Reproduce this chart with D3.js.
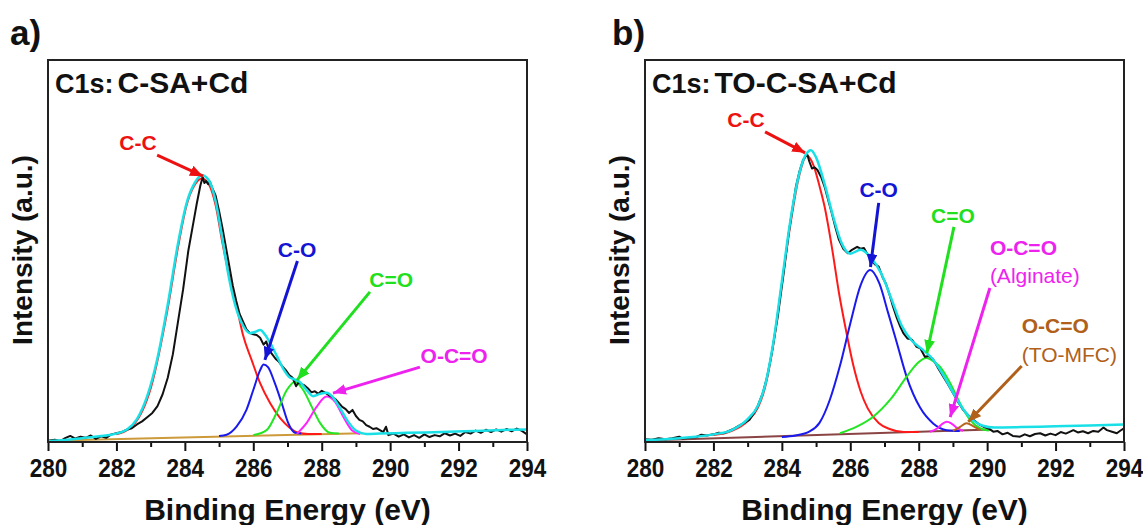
<!DOCTYPE html>
<html>
<head>
<meta charset="utf-8">
<script src="https://cdn.jsdelivr.net/npm/d3@7"></script>
<style>
  body { margin: 0; background: #fff; }
  svg { display: block; font-family: Arial, "Liberation Sans", sans-serif; }
</style>
</head>
<body>
<div class="d3Chart"></div>
<script>
// x ticks
var tickMajor = [280, 282, 284, 286, 288, 290, 292, 294];
var tickMinor = [281, 283, 285, 287, 289, 291, 293];

// ---- panel a : C-SA+Cd  ([eV, intensity]) ----
var rawA = [
  [280.0, 0.3], [280.2, 0.6], [280.35, 0.2], [280.5, 1.0], [280.65, 1.6], [280.8, 0.9],
  [280.95, 1.4], [281.1, 1.1], [281.25, 1.7], [281.4, 0.8], [281.55, 1.5], [281.7, 1.1],
  [281.85, 2.0], [282.0, 2.3], [282.15, 2.6], [282.3, 3.2], [282.45, 3.6], [282.6, 4.6],
  [282.75, 5.4], [282.9, 6.5], [283.05, 7.6], [283.2, 9.4], [283.35, 12.5], [283.5, 16.8],
  [283.65, 23], [283.8, 31.5], [283.95, 40], [284.1, 50], [284.25, 57.5], [284.35, 62.5],
  [284.45, 67], [284.52, 69.4], [284.57, 67.8], [284.62, 68.3], [284.68, 67.5], [284.73, 68.2],
  [284.8, 66.5], [284.9, 64.5], [285.0, 60.5], [285.1, 56], [285.2, 51], [285.3, 46],
  [285.4, 41], [285.5, 37], [285.6, 33.5], [285.7, 31.5], [285.8, 29.5], [285.9, 28.5],
  [286.0, 28.2], [286.1, 28.0], [286.2, 27.3], [286.3, 25.5], [286.38, 26.3], [286.45, 24.2],
  [286.55, 23.0], [286.65, 21.8], [286.75, 21.0], [286.85, 19.8], [286.95, 18.8], [287.05, 17.5],
  [287.15, 16.8], [287.25, 14.6], [287.32, 15.6], [287.4, 15.2], [287.5, 14.8], [287.6, 14.0],
  [287.7, 13.0], [287.8, 13.3], [287.9, 12.6], [288.0, 13.4], [288.1, 12.9], [288.2, 12.3],
  [288.3, 11.8], [288.4, 11.2], [288.5, 10.2], [288.6, 9.2], [288.7, 8.6], [288.8, 7.6],
  [288.9, 8.4], [289.0, 6.8], [289.1, 5.8], [289.2, 5.4], [289.3, 4.4], [289.4, 4.0],
  [289.5, 3.4], [289.6, 3.6], [289.7, 3.1], [289.8, 2.6], [289.88, 4.0], [289.95, 1.8],
  [290.1, 2.2], [290.25, 1.4], [290.4, 2.0], [290.55, 1.2], [290.7, 1.8], [290.85, 1.1],
  [291.0, 2.0], [291.15, 1.3], [291.3, 1.8], [291.45, 1.5], [291.6, 2.3], [291.75, 1.7],
  [291.9, 2.2], [292.05, 1.6], [292.2, 2.6], [292.35, 2.2], [292.5, 3.0], [292.65, 2.4],
  [292.8, 3.2], [292.95, 2.6], [293.1, 3.3], [293.25, 2.7], [293.4, 3.4], [293.55, 2.8],
  [293.7, 3.5], [293.85, 2.9], [294.0, 2.0]
];
var fitA = [
  [280.0, 0.2], [280.5, 0.5], [281.0, 1.0], [281.5, 1.5], [282.0, 2.2], [282.3, 3.2],
  [282.6, 6.0], [282.9, 12], [283.2, 22], [283.5, 36], [283.8, 52], [284.05, 62.5],
  [284.3, 68], [284.5, 69.8], [284.7, 68.5], [284.9, 63], [285.1, 53], [285.3, 42.5],
  [285.5, 35], [285.7, 30.5], [285.9, 28.5], [286.05, 28.8], [286.2, 29.3], [286.35, 28],
  [286.5, 25.8], [286.7, 22.3], [286.9, 18.8], [287.05, 17], [287.2, 16.4], [287.35, 15.8],
  [287.55, 13.7], [287.75, 12], [287.95, 12.6], [288.15, 12.9], [288.3, 12], [288.5, 9.4],
  [288.75, 5.6], [289.0, 3.0], [289.3, 2.1], [289.7, 2.2], [290.5, 2.4], [291.5, 2.6],
  [292.5, 2.9], [293.5, 3.2], [294.0, 3.3]
];
var ccA = [
  [282.0, 2.0], [282.5, 4.5], [283.0, 14], [283.5, 35], [283.8, 51], [284.05, 62],
  [284.3, 67.5], [284.5, 69], [284.7, 67.5], [284.9, 62], [285.1, 52], [285.37, 40.5],
  [285.56, 33.5], [285.7, 28], [285.95, 21.5], [286.2, 15.4], [286.49, 10.2], [286.78, 6.3],
  [287.07, 3.7], [287.31, 2.4], [287.6, 2.1], [288.0, 2.1]
];
var coA = [
  [285.0, 1.6], [285.22, 1.9], [285.51, 4], [285.8, 8.4], [286.0, 13.6], [286.2, 18.8],
  [286.3, 20.3], [286.43, 19.6], [286.63, 15.4], [286.83, 10.2], [287.02, 5], [287.22, 2.4],
  [287.4, 2.2]
];
var c2oA = [
  [286.0, 1.8], [286.39, 3.1], [286.68, 7.6], [286.98, 13.6], [287.22, 15.8], [287.46, 13.6],
  [287.71, 9.2], [287.95, 5], [288.24, 2.4], [288.5, 2.2]
];
var occA = [
  [287.27, 2.1], [287.56, 5], [287.85, 9.2], [288.14, 11.9], [288.39, 10.5], [288.63, 6.6],
  [288.88, 3.1], [289.12, 2.1]
];
var bgA = [[280.0, 0.3], [289.2, 2.3]];

// ---- panel b : TO-C-SA+Cd ----
var rawB = [
  [280.0, 0.7], [280.2, 0.6], [280.4, 1.0], [280.6, 0.7], [280.8, 1.0], [281.0, 1.4],
  [281.1, 0.9], [281.3, 1.1], [281.5, 1.3], [281.65, 1.9], [281.8, 1.7], [282.0, 2.0],
  [282.15, 2.4], [282.3, 2.3], [282.45, 2.9], [282.6, 3.5], [282.75, 4.3], [282.9, 5.0],
  [283.05, 5.8], [283.2, 7.8], [283.3, 9.5], [283.45, 13], [283.57, 17.1], [283.7, 23],
  [283.88, 32.8], [284.05, 44], [284.2, 54.7], [284.3, 60.5], [284.41, 66.8], [284.52, 71],
  [284.62, 73.8], [284.7, 74.8], [284.75, 75.1], [284.8, 73.5], [284.88, 71.6], [284.96, 71.9],
  [285.04, 71.2], [285.15, 69.3], [285.25, 66.8], [285.35, 63.5], [285.46, 59.9], [285.57, 56],
  [285.67, 52.9], [285.8, 50.5], [285.93, 49.4], [286.05, 50.3], [286.2, 51.1], [286.3, 50.6],
  [286.4, 50.8], [286.5, 49.2], [286.62, 47.6], [286.72, 46.5], [286.83, 45.9], [286.95, 43],
  [287.04, 41.5], [287.15, 38.5], [287.25, 35.4], [287.36, 32.5], [287.46, 30.2], [287.55, 28.5],
  [287.67, 27.1], [287.8, 26.8], [287.94, 24.9], [288.05, 24.5], [288.18, 22.3], [288.3, 22.5],
  [288.43, 21.5], [288.55, 19.6], [288.72, 17.1], [288.85, 15.2], [289.01, 12.7], [289.15, 10.5],
  [289.3, 8.4], [289.45, 7.0], [289.6, 5.8], [289.75, 4.7], [289.89, 4.0], [290.05, 3.5],
  [290.18, 2.7], [290.3, 2.9], [290.45, 2.0], [290.6, 2.4], [290.75, 1.6], [290.96, 1.4],
  [291.1, 2.0], [291.25, 1.5], [291.4, 2.1], [291.55, 2.3], [291.7, 1.7], [291.85, 2.2],
  [292.0, 1.8], [292.15, 2.6], [292.3, 2.2], [292.52, 3.1], [292.65, 2.5], [292.8, 2.8],
  [292.95, 2.3], [293.1, 2.9], [293.25, 2.7], [293.4, 3.8], [293.5, 3.1], [293.65, 2.7],
  [293.79, 2.3], [293.9, 3.0], [294.0, 3.6]
];
var fitB = [
  [280.0, 0.5], [281.0, 1.0], [282.0, 2.0], [282.5, 3.0], [283.0, 6.0], [283.3, 9.5],
  [283.5, 14.5], [283.75, 26], [284.0, 42], [284.25, 58], [284.5, 70], [284.7, 75.2],
  [284.85, 76.4], [285.0, 74.5], [285.25, 67.5], [285.5, 59], [285.75, 52], [286.0, 49.3],
  [286.3, 50.3], [286.6, 48.3], [286.9, 44.2], [287.2, 37.5], [287.5, 30.5], [287.8, 26.5],
  [288.1, 24.3], [288.4, 21.8], [288.7, 17.8], [289.0, 13], [289.3, 8.6], [289.6, 5.6],
  [289.9, 4.2], [290.2, 3.8], [291.0, 3.9], [292.0, 4.1], [293.0, 4.3], [294.0, 4.6]
];
var ccB = [
  [282.0, 1.8], [282.5, 2.8], [283.0, 5.5], [283.3, 9], [283.5, 14], [283.75, 25.5],
  [284.0, 41.5], [284.25, 57], [284.5, 69.5], [284.73, 75], [284.93, 72.3], [285.1, 67],
  [285.25, 61.6], [285.46, 51.1], [285.67, 39], [285.88, 29], [286.09, 20], [286.3, 13.3],
  [286.51, 8.8], [286.83, 5.0], [287.15, 3.4], [287.56, 2.6], [288.0, 2.6]
];
var coB = [
  [284.0, 1.3], [284.4, 1.7], [284.8, 2.7], [285.1, 5], [285.4, 11], [285.7, 20],
  [286.0, 31], [286.3, 41], [286.58, 45], [286.85, 41.5], [287.1, 34], [287.36, 26],
  [287.65, 17], [288.04, 9], [288.43, 4.8], [288.82, 3.1], [289.2, 2.9]
];
var c2oB = [
  [285.7, 2.3], [286.19, 4], [286.67, 6.6], [287.16, 11], [287.65, 17.1], [287.95, 20.5],
  [288.22, 22], [288.45, 21], [288.62, 19.7], [288.92, 15.4], [289.21, 10.1], [289.5, 5.8],
  [289.79, 3.6], [290.05, 3.0]
];
var occB = [
  [288.33, 2.7], [288.55, 3.6], [288.7, 4.8], [288.82, 5.3], [288.95, 4.9], [289.1, 3.8], [289.3, 2.9]
];
var mfcB = [[289.0, 2.9], [289.2, 3.9], [289.4, 4.9], [289.6, 4.1], [289.8, 3.1]];
var bgB = [[280.0, 0.4], [290.1, 3.3]];

// labels: [text, eV, intensity, anchor, color, weight], arrows: [x0, y0, x1, y1, color]
var labelsA = [
  ["C-C", 282.63, 76.4, "middle", "#ee1111", "bold"],
  ["C-O", 287.28, 48.4, "middle", "#1414d4", "bold"],
  ["C=O", 290.03, 40.6, "middle", "#1fdf1f", "bold"],
  ["O-C=O", 291.87, 20.7, "middle", "#ee22ee", "bold"]
];
var arrowsA = [
  [283.19, 75.1, 284.53, 69.6, "#ee1111"],
  [287.29, 47.4, 286.34, 21.5, "#1414d4"],
  [289.41, 39.3, 287.28, 16.2, "#1fdf1f"],
  [290.87, 19.6, 288.33, 12.8, "#ee22ee"]
];
var labelsB = [
  ["C-C", 282.95, 82.5, "middle", "#ee1111", "bold"],
  ["C-O", 286.83, 64.1, "middle", "#1414d4", "bold"],
  ["C=O", 289.0, 57.3, "middle", "#1fdf1f", "bold"],
  ["O-C=O", 290.08, 49.0, "start", "#ee22ee", "bold"],
  ["(Alginate)", 290.08, 41.6, "start", "#ee22ee", "normal"],
  ["O-C=O", 291.01, 28.5, "start", "#b0601a", "bold"],
  ["(TO-MFC)", 291.01, 20.9, "start", "#b0601a", "normal"]
];
var arrowsB = [
  [283.51, 81.2, 284.68, 75.7, "#ee1111"],
  [286.83, 62.6, 286.59, 45.8, "#1414d4"],
  [289.03, 56.3, 288.24, 23.3, "#1fdf1f"],
  [290.08, 40.3, 288.92, 6.5, "#ee22ee"],
  [291.01, 19.9, 289.45, 5.3, "#b0601a"]
];

// 畫布
var width = 1143;
var height = 525;
var plotTop = 60, plotBottom = 442, plotW = 479;

var svg = d3.select(".d3Chart").append("svg")
  .attr("width", width).attr("height", height);

var defs = svg.append("defs");

function drawPanel(p) {
  var x = d3.scaleLinear().domain([280, 294]).range([p.left, p.left + plotW]);
  var y = d3.scaleLinear().domain([0, 100]).range([plotBottom, plotTop]);
  var g = svg.append("g");

  defs.append("clipPath").attr("id", "clip" + p.id)
    .append("rect").attr("x", p.left).attr("y", plotTop)
    .attr("width", plotW).attr("height", plotBottom - plotTop);

  var line = d3.line().x(d => x(d[0])).y(d => y(d[1]));
  var smooth = d3.line().x(d => x(d[0])).y(d => y(d[1])).curve(d3.curveMonotoneX);

  var plot = g.append("g").attr("clip-path", "url(#clip" + p.id + ")");
  // 背景線, 分峰, 原始數據, 擬合
  p.curves.forEach(function (c) {
    plot.append("path").datum(c.data)
      .attr("fill", "none")
      .attr("stroke", c.color)
      .attr("stroke-width", c.w)
      .attr("stroke-linejoin", "round")
      .attr("d", c.raw ? line : smooth);
  });

  // 軸
  var axis = g.append("g").attr("transform", `translate(0,${plotBottom})`)
    .call(d3.axisBottom(x).tickValues(tickMajor).tickSize(9).tickPadding(8).tickFormat(d3.format("d")));
  g.append("g").attr("transform", `translate(0,${plotBottom})`)
    .call(d3.axisBottom(x).tickValues(tickMinor).tickSize(5).tickFormat(""))
    .call(s => s.select(".domain").remove());
  axis.select(".domain").remove();
  g.selectAll(".tick line").attr("stroke", "#111").attr("stroke-width", 2);
  // 字形略窄
  axis.selectAll("text").attr("font-size", 25).attr("font-weight", "bold")
    .attr("fill", "#111").attr("font-family", "Arial, 'Liberation Sans', sans-serif")
    .attr("transform", "scale(0.9,1)");

  g.append("rect").attr("x", p.left).attr("y", plotTop)
    .attr("width", plotW).attr("height", plotBottom - plotTop)
    .attr("fill", "none").attr("stroke", "#222").attr("stroke-width", 2);

  // 標題
  g.append("text").attr("x", p.left + plotW / 2).attr("y", 520)
    .attr("text-anchor", "middle").attr("font-size", 30).attr("font-weight", "bold")
    .attr("fill", "#111").text("Binding Energy (eV)");
  g.append("text").attr("transform", `translate(${p.left - 16},250) rotate(-90)`)
    .attr("text-anchor", "middle").attr("font-size", 28).attr("font-weight", "bold")
    .attr("fill", "#111").text("Intensity (a.u.)");
  g.append("text").attr("x", p.tagX).attr("y", 45)
    .attr("font-size", 35).attr("font-weight", "bold").attr("fill", "#111").text(p.tag);

  var t = g.append("text").attr("x", p.left + 7).attr("y", 93)
    .attr("font-weight", "bold").attr("fill", "#111");
  t.append("tspan").attr("font-size", 27).text("C1s:");
  t.append("tspan").attr("font-size", 30).attr("dx", 4).text(p.name);

  // 箭頭
  p.arrows.forEach(function (a, i) {
    var id = "ah" + p.id + i;
    defs.append("marker").attr("id", id)
      .attr("viewBox", "0 0 12 10").attr("refX", 12).attr("refY", 5)
      .attr("markerUnits", "userSpaceOnUse")
      .attr("markerWidth", 13).attr("markerHeight", 11).attr("orient", "auto")
      .append("path").attr("d", "M0,0L12,5L0,10Z").attr("fill", a[4]);
    g.append("line")
      .attr("x1", x(a[0])).attr("y1", y(a[1]))
      .attr("x2", x(a[2])).attr("y2", y(a[3]))
      .attr("stroke", a[4]).attr("stroke-width", 3)
      .attr("marker-end", `url(#${id})`);
  });
  p.labels.forEach(function (l) {
    g.append("text").attr("x", x(l[1])).attr("y", y(l[2]))
      .attr("text-anchor", l[3]).attr("font-size", 21).attr("font-weight", l[5])
      .attr("fill", l[4]).text(l[0]);
  });
}

drawPanel({
  id: "a", left: 48, tag: "a)", tagX: 10, name: "C-SA+Cd",
  curves: [
    { data: bgA, color: "#cc9a3a", w: 2 },
    { data: ccA, color: "#ff1a1a", w: 2 },
    { data: coA, color: "#1a1aee", w: 2 },
    { data: c2oA, color: "#22e622", w: 2 },
    { data: occA, color: "#ff22ff", w: 2 },
    { data: rawA, color: "#111", w: 2, raw: true },
    { data: fitA, color: "#19e0e6", w: 2.5 }
  ],
  labels: labelsA, arrows: arrowsA
});

drawPanel({
  id: "b", left: 645, tag: "b)", tagX: 612, name: "TO-C-SA+Cd",
  curves: [
    { data: bgB, color: "#8b4444", w: 2 },
    { data: ccB, color: "#ff1a1a", w: 2 },
    { data: coB, color: "#1a1aee", w: 2 },
    { data: c2oB, color: "#22e622", w: 2 },
    { data: occB, color: "#ff22ff", w: 2 },
    { data: mfcB, color: "#b5651d", w: 2 },
    { data: rawB, color: "#111", w: 2, raw: true },
    { data: fitB, color: "#19e0e6", w: 2.5 }
  ],
  labels: labelsB, arrows: arrowsB
});
</script>
</body>
</html>
